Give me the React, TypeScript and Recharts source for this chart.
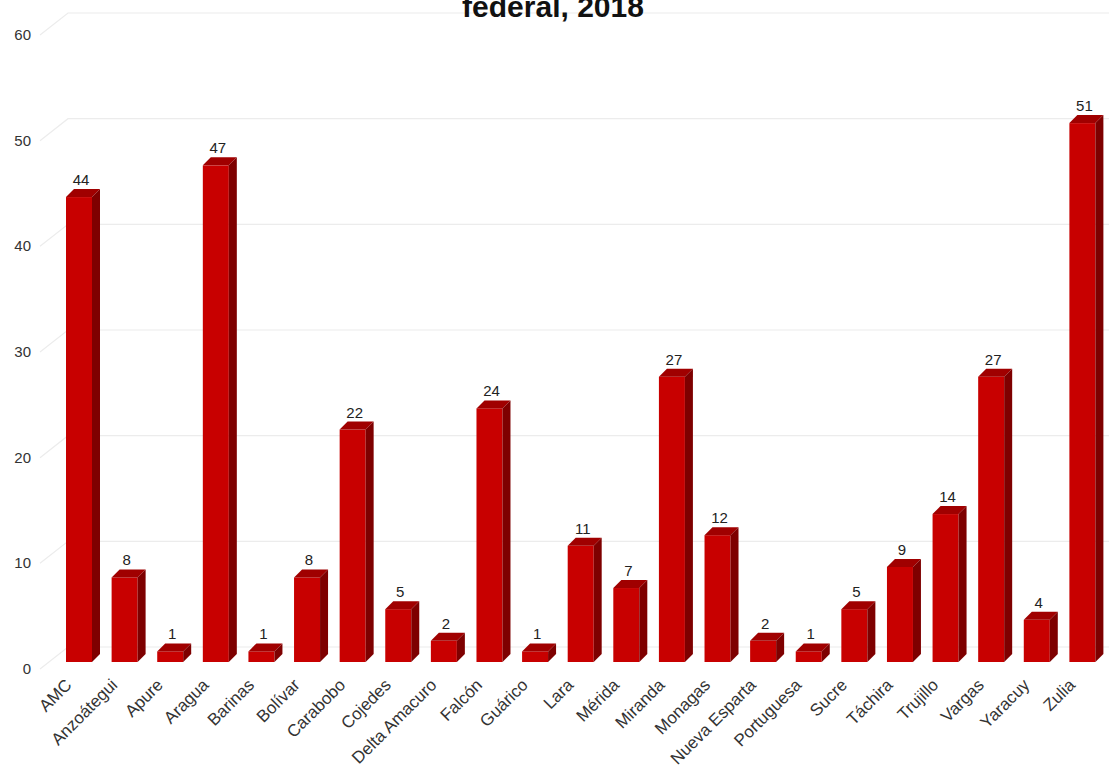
import { BarChart, Bar, XAxis, YAxis, CartesianGrid, LabelList } from 'recharts';

const estados = [
  'AMC', 'Anzoátegui', 'Apure', 'Aragua', 'Barinas', 'Bolívar', 'Carabobo', 'Cojedes',
  'Delta Amacuro', 'Falcón', 'Guárico', 'Lara', 'Mérida', 'Miranda', 'Monagas',
  'Nueva Esparta', 'Portuguesa', 'Sucre', 'Táchira', 'Trujillo', 'Vargas', 'Yaracuy', 'Zulia',
];
const casos = [44, 8, 1, 47, 1, 8, 22, 5, 2, 24, 1, 11, 7, 27, 12, 2, 1, 5, 9, 14, 27, 4, 51];
const yTicks = [0, 10, 20, 30, 40, 50, 60];

const data = estados.map((estado, i) => ({ estado, casos: casos[i] }));

const FONT = '"Liberation Sans", Arial, sans-serif';
const DX = 8;
const DY = 8;

// caja 3D: cara frontal, tapa y lateral
function Bar3D(props: any) {
  const { x, y, width: w, height: h } = props;
  return (
    <g>
      <rect x={x} y={y} width={w} height={h} fill="#c80000" />
      <polygon points={`${x},${y} ${x + DX},${y - DY} ${x + w + DX},${y - DY} ${x + w},${y}`} fill="#a00000" />
      <polygon points={`${x + w},${y} ${x + w + DX},${y - DY} ${x + w + DX},${y + h - DY} ${x + w},${y + h}`} fill="#7e0000" />
    </g>
  );
}

function GridLine(props: any) {
  const { y1, x2 } = props;
  return (
    <path
      key={`g-${y1}`}
      d={`M40,${y1 + 7} L68,${y1 - 15} L${x2 + 10},${y1 - 15}`}
      stroke="#ececec"
      strokeWidth={1.2}
      fill="none"
    />
  );
}

function YTick(props: any) {
  const { y, payload } = props;
  return (
    <text x={31} y={y + 12} textAnchor="end" fontSize={15} fill="#333" fontFamily={FONT}>
      {payload.value}
    </text>
  );
}

function XTick(props: any) {
  const { x, payload } = props;
  const ax = x - 6;
  const ay = 686;
  return (
    <text x={ax} y={ay} textAnchor="end" fontSize={17} fill="#333" fontFamily={FONT} transform={`rotate(-45 ${ax} ${ay})`}>
      {payload.value}
    </text>
  );
}

function ValueLabel(props: any) {
  const { x, y, width, value } = props;
  return (
    <text x={x + width / 2 + 2} y={y - 12} textAnchor="middle" fontSize={15} fill="#222" fontFamily={FONT}>
      {value}
    </text>
  );
}

export default function App() {
  return (
    <div style={{ position: 'absolute', left: 0, top: 0, width: 1109, height: 770, background: '#fff', overflow: 'hidden' }}>
      <BarChart width={1109} height={770} data={data} margin={{ top: 28, right: 4, bottom: 0, left: 0 }} barSize={26}>
        <text x={553} y={17} textAnchor="middle" fontSize={30} fontWeight="bold" fill="#111" fontFamily={FONT}>
          federal, 2018
        </text>
        <CartesianGrid vertical={false} horizontal={(p: any) => <GridLine {...p} />} />
        <XAxis dataKey="estado" interval={0} height={108} axisLine={false} tickLine={false} tick={<XTick />} />
        <YAxis domain={[0, 60]} ticks={yTicks} width={56} axisLine={false} tickLine={false} tick={<YTick />} />
        <Bar dataKey="casos" shape={<Bar3D />} isAnimationActive={false}>
          <LabelList dataKey="casos" content={<ValueLabel />} />
        </Bar>
      </BarChart>
    </div>
  );
}
